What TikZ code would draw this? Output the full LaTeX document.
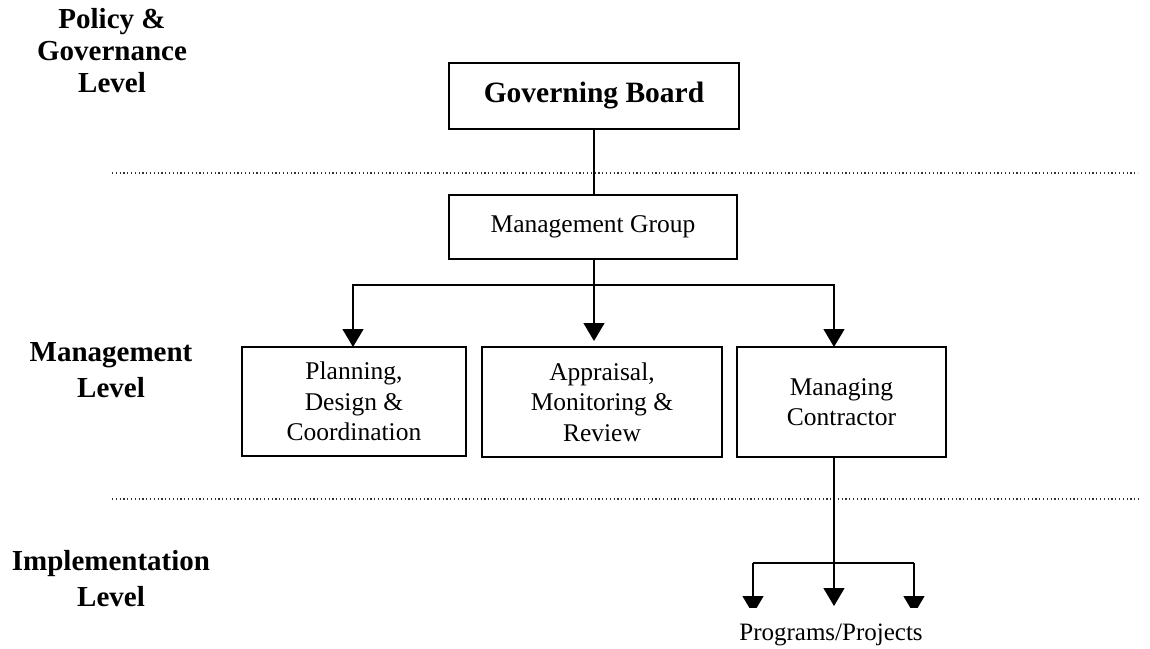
\documentclass[tikz,border=0pt]{standalone}
\usepackage{fontspec}
\setmainfont{Liberation Serif}
\usetikzlibrary{arrows.meta}

\begin{document}
\begin{tikzpicture}[x=1pt,y=-1pt,
  every node/.style={inner sep=0pt, outer sep=0pt},
  level/.style={align=center, font=\fontsize{29}{36}\selectfont\bfseries},
  unit/.style={draw, line width=1.3pt, align=center, font=\fontsize{25.5}{30.5}\selectfont},
  link/.style={line width=1.3pt},
  arr/.style={line width=1.3pt, -{Triangle[width=21pt,length=18pt]}},
  divider/.style={line width=1.1pt, black!80, dash pattern=on 1.1pt off 2.7pt}]

\useasboundingbox (0,0) rectangle (1150,648);

% level labels on the left
\node[level, font=\fontsize{29}{32}\selectfont\bfseries] (lpol) at (112,51) {Policy \&\\Governance\\Level};
\node[level] (lman) at (111,370) {Management\\Level};
\node[level] (limp) at (111,579) {Implementation\\Level};

% dotted dividers between levels
\coordinate (d1a) at (112,173);
\coordinate (d1b) at (1138,173);
\coordinate (d2a) at (112,499);
\coordinate (d2b) at (1140,499);
\draw[divider] (d1a) -- (d1b);
\draw[divider] (d2a) -- (d2b);

% boxes
\node[unit, minimum width=290pt, minimum height=66pt,
      font=\fontsize{29.5}{34}\selectfont\bfseries] (gb) at (594,96) {Governing Board};
\node[unit, minimum width=288pt, minimum height=64pt] (mg) at (593,227) {Management Group};
\node[unit, minimum width=224pt, minimum height=109pt, text depth=0pt] (pdc) at (354,401.5) {Planning,\\Design \&\\Coordination};
\node[unit, minimum width=240pt, minimum height=110pt, text depth=0pt] (amr) at (602,402) {Appraisal,\\Monitoring \&\\Review};
\node[unit, minimum width=209pt, minimum height=110pt] (mc) at (841.5,402) {Managing\\Contractor};

% management group to the three units
\coordinate (jc) at (594,285);
\coordinate (jl) at (353,285);
\coordinate (jr) at (834,285);
\draw[link] (gb.south -| jc) -- (mg.north -| jc);
\draw[arr, shorten >=6pt] (mg.south -| jc) -- (amr.north -| jc);
\draw[arr] (jc) -- (jl) -- (pdc.north -| jl);
\draw[arr] (jc) -- (jr) -- (mc.north -| jr);

% managing contractor to programs/projects
\node[font=\fontsize{25}{30}\selectfont, anchor=base] (pp) at (831,640) {Programs/Projects};
\coordinate (pm) at (834,606);
\coordinate (hl) at (753,563);
\coordinate (hr) at (914,563);
\coordinate (tl) at (753,614);
\coordinate (tr) at (914,614);
\draw[arr] (mc.south -| pm) -- (pm);
\draw[link] (hl) -- (hr);
\begin{scope}
  \clip (700,540) rectangle (960,607);
  \draw[arr] (hl) -- (tl);
  \draw[arr] (hr) -- (tr);
\end{scope}

\end{tikzpicture}
\end{document}
